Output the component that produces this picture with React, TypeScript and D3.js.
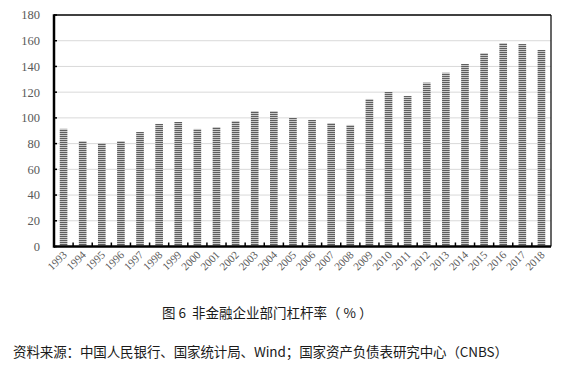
import React from 'react';
import * as d3 from 'd3';

// 非金融企业部门杠杆率（%）
const years = [
  '1993', '1994', '1995', '1996', '1997', '1998', '1999', '2000', '2001',
  '2002', '2003', '2004', '2005', '2006', '2007', '2008', '2009', '2010',
  '2011', '2012', '2013', '2014', '2015', '2016', '2017', '2018',
];
const leverage = [
  91.5, 82, 80.5, 82, 89, 95.3, 96.8, 91.4, 92.9,
  97.6, 105.3, 105.3, 99.9, 98.4, 96, 94.5, 114.7, 120.1,
  117, 127.4, 135.1, 141.9, 150.4, 158.2, 157.4, 152.8,
];
const yTicks = [0, 20, 40, 60, 80, 100, 120, 140, 160, 180];

const title = '图 6  非金融企业部门杠杆率（ % ）';
const source = '资料来源：中国人民银行、国家统计局、Wind；国家资产负债表研究中心（CNBS）';

const W = 587;
const H = 371;
const left = 54;
const right = 551;
const top = 15;
const bottom = 246.5;

export default function App() {
  const x = d3.scaleBand<string>().domain(years).range([left, right]).paddingInner(0.6).paddingOuter(0.3);
  const band = d3.scaleBand<string>().domain(years).range([left, right]);
  const y = d3.scaleLinear().domain([0, 180]).range([bottom, top]);

  const serif = '"Liberation Serif", "DejaVu Serif", serif';
  const cjk = '"Noto Sans CJK SC", "Noto Sans", sans-serif';

  return (
    <svg width={W} height={H} style={{ position: 'absolute', left: 0, top: 0, background: '#fff' }}>
      <defs>
        <pattern id="stripes" width={4} height={2} patternUnits="userSpaceOnUse">
          <rect width={4} height={2} fill="#c9c9c9" />
          <rect width={4} height={1} fill="#5e5e5e" />
        </pattern>
      </defs>

      {/* gridlines */}
      {yTicks.slice(1, -1).map((t) => (
        <line key={t} x1={left} x2={right} y1={y(t)} y2={y(t)} stroke="#d9d9d9" strokeWidth={1} />
      ))}

      {/* bars */}
      {years.map((yr, i) => (
        <rect
          key={yr}
          x={x(yr)}
          y={y(leverage[i])}
          width={x.bandwidth()}
          height={y(0) - y(leverage[i])}
          fill="url(#stripes)"
        />
      ))}

      {/* frame */}
      <line x1={left} x2={right} y1={top} y2={top} stroke="#000" strokeWidth={1.5} />
      <line x1={right} x2={right} y1={top} y2={bottom} stroke="#000" strokeWidth={1.2} />
      <line x1={left} x2={left} y1={top - 0.75} y2={bottom + 1.2} stroke="#000" strokeWidth={2.5} />
      <line x1={left} x2={right} y1={bottom} y2={bottom} stroke="#000" strokeWidth={2.5} />

      {/* y ticks and labels */}
      {yTicks.map((t) => (
        <g key={t}>
          <line x1={left} x2={left + 3} y1={y(t)} y2={y(t)} stroke="#000" strokeWidth={1.5} />
          <text
            x={40}
            y={y(t)}
            dy="0.35em"
            textAnchor="end"
            fontFamily={serif}
            fontSize={12.5}
            fill="#595959"
          >
            {t}
          </text>
        </g>
      ))}

      {/* x ticks */}
      {years.slice(1).map((yr) => (
        <line key={yr} x1={band(yr)} x2={band(yr)} y1={bottom} y2={bottom - 4} stroke="#000" strokeWidth={1.5} />
      ))}

      {/* x labels */}
      {years.map((yr) => {
        const cx = (band(yr) as number) + band.bandwidth() / 2 + 4;
        const cy = bottom + 9;
        return (
          <text
            key={yr}
            x={cx}
            y={cy}
            textAnchor="end"
            transform={`rotate(-45 ${cx} ${cy})`}
            fontFamily={serif}
            fontSize={11}
            fill="#595959"
          >
            {yr}
          </text>
        );
      })}

      <text x={162} y={318} fontFamily={cjk} fontSize={13.5} fill="#1a1a1a"
        style={{ whiteSpace: 'pre' }}>
        {title}
      </text>
      <text x={13} y={357} fontFamily={cjk} fontSize={13.5} fill="#1a1a1a"
        textLength={495} lengthAdjust="spacing">
        {source}
      </text>
    </svg>
  );
}
